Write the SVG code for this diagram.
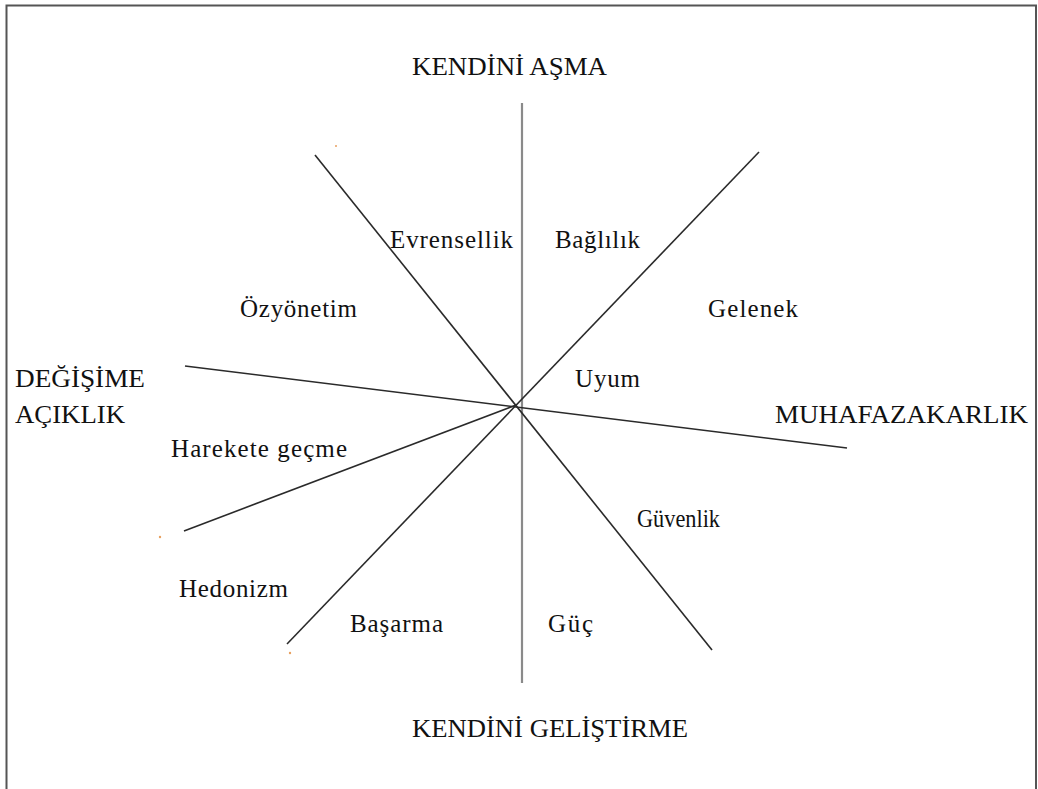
<svg xmlns="http://www.w3.org/2000/svg" width="1038" height="789" viewBox="0 0 1038 789">
<style>
text{font-family:"Liberation Serif","Times New Roman",serif;font-size:25px;fill:#111}
.ax{stroke:#2a2a2a;stroke-width:1.6;fill:none}
.v{stroke:#8a8a8a;stroke-width:2.2}
.dot{fill:#e8a060}
</style>
<rect x="0" y="0" width="1038" height="789" fill="#fff"/>
<path d="M6.5 800 V5.5 H1036 V800" fill="none" stroke="#555" stroke-width="2"/>
<g id="connectors">
<line class="v" x1="522" y1="103" x2="522" y2="683"/>
<line class="ax" x1="315" y1="155" x2="712" y2="650"/>
<line class="ax" x1="759" y1="152" x2="287" y2="644"/>
<line class="ax" x1="185" y1="366" x2="847" y2="448"/>
<line class="ax" x1="184" y1="531" x2="516" y2="405"/>
</g>
<circle class="dot" cx="160" cy="537" r="1.2"/>
<circle class="dot" cx="290" cy="653" r="1.2"/>
<circle class="dot" cx="336" cy="146" r="1"/>
<g id="kendini-asma"><text x="412" y="75" textLength="195" lengthAdjust="spacingAndGlyphs">KENDİNİ AŞMA</text></g>
<g id="degisime"><text x="15" y="387" textLength="130" lengthAdjust="spacingAndGlyphs">DEĞİŞİME</text><text x="15" y="423" textLength="110" lengthAdjust="spacingAndGlyphs">AÇIKLIK</text></g>
<g id="muhafazakarlik"><text x="775" y="423" textLength="253" lengthAdjust="spacingAndGlyphs">MUHAFAZAKARLIK</text></g>
<g id="kendini-gelistirme"><text x="412" y="737" textLength="276" lengthAdjust="spacingAndGlyphs">KENDİNİ GELİŞTİRME</text></g>
<g id="evrensellik"><text x="390" y="248" textLength="123" lengthAdjust="spacing">Evrensellik</text></g>
<g id="baglilik"><text x="555" y="248" textLength="85" lengthAdjust="spacing">Bağlılık</text></g>
<g id="ozyonetim"><text x="240" y="317" textLength="117" lengthAdjust="spacing">Özyönetim</text></g>
<g id="gelenek"><text x="708" y="317" textLength="90" lengthAdjust="spacing">Gelenek</text></g>
<g id="uyum"><text x="575" y="387" textLength="65" lengthAdjust="spacing">Uyum</text></g>
<g id="harekete"><text x="171" y="457" textLength="176" lengthAdjust="spacing">Harekete geçme</text></g>
<g id="guvenlik"><text x="637" y="527" textLength="83" lengthAdjust="spacingAndGlyphs">Güvenlik</text></g>
<g id="hedonizm"><text x="179" y="597" textLength="109" lengthAdjust="spacing">Hedonizm</text></g>
<g id="basarma"><text x="350" y="632" textLength="93" lengthAdjust="spacing">Başarma</text></g>
<g id="guc"><text x="548" y="632" textLength="45" lengthAdjust="spacing">Güç</text></g>
</svg>
